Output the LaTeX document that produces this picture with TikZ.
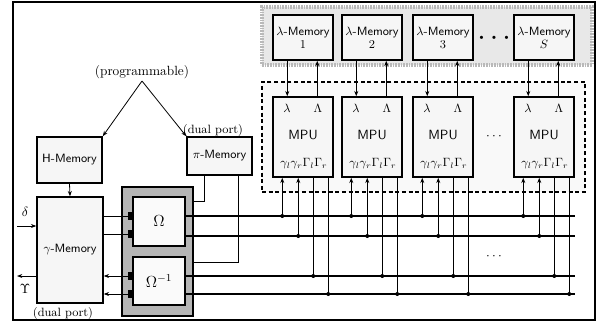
\documentclass[tikz,border=0pt]{standalone}
\usetikzlibrary{arrows.meta,calc}
\begin{document}
\begin{tikzpicture}[x=0.75pt,y=-0.75pt,
  box/.style={draw=black,line width=1.1pt,fill=gray!7,inner sep=0pt,font=\sffamily\small,align=center},
  lamreg/.style={draw=gray!55,line width=3.5pt,dash pattern=on 1.2pt off 0.8pt,fill=gray!18,inner sep=0pt},
  mpureg/.style={draw=black,line width=0.8pt,dash pattern=on 3pt off 2pt,fill=gray!5,inner sep=0pt},
  omframe/.style={draw=black,line width=1.3pt,fill=gray!58,inner sep=0pt},
  ombox/.style={draw=black,line width=1.1pt,fill=gray!4,inner sep=0pt,font=\large},
  port/.style={fill=black,draw=none,minimum width=4pt,minimum height=5.5pt,inner sep=0pt},
  bus/.style={line width=2.2pt},
  thin/.style={line width=0.6pt},
  arr/.style={line width=0.6pt,-{Stealth[length=4pt,width=3pt]}},
  jdot/.style={circle,fill=black,inner sep=0pt,minimum size=3pt},
  lbl/.style={inner sep=0pt,font=\small},
  mlbl/.style={inner sep=0pt,font=\sffamily\small},
]
\useasboundingbox (0,0) rectangle (597,322);
% outer frame
\node[draw=black,line width=0.8pt,minimum width=436.5pt,minimum height=238.5pt,inner sep=0pt] (frame) at (304,161) {};

% regions
\node[lamreg,minimum width=247.5pt,minimum height=43.5pt] (lamregion) at (427,36) {};
\node[mpureg,minimum width=242.25pt,minimum height=82.5pt] (mpuregion) at (423.5,137) {};

% left side boxes
\node[box,minimum width=48.75pt,minimum height=34.5pt] (hmem) at (69.5,160) {H-Memory};
\node[box,minimum width=48.75pt,minimum height=28.5pt] (pimem) at (219.5,156) {$\pi$-Memory};
\node[box,minimum width=49.5pt,minimum height=79.5pt] (gmem) at (70,250) {$\gamma$-Memory};

\node[lbl,font=\normalsize] (prog) at (142,72) {(programmable)};
\node[lbl] (dp1) at (213,130) {(dual port)};
\node[lbl] (dp2) at (63,313) {(dual port)};
\coordinate (apex) at (142,81);
\draw[arr] (apex) -- (hmem.north east);
\draw[arr] (apex) -- (pimem.north west);
\draw[arr] (hmem.south) -- (gmem.north);

% delta / upsilon
\node[lbl,font=\normalsize] (delta) at (25,212) {$\delta$};
\node[lbl,font=\normalsize] (ups) at (25,289) {$\Upsilon$};
\coordinate (din) at (17,226);
\coordinate (uout) at (17,276);
\draw[arr] (din) -- (din -| gmem.west);
\draw[arr] (uout -| gmem.west) -- (uout);

% Omega block
\node[omframe,minimum width=53.25pt,minimum height=96.75pt] (omf) at (157.5,251.5) {};
\node[ombox,minimum width=39pt,minimum height=36.75pt] (om) at (159,221.5) {$\Omega$};
\node[ombox,minimum width=39pt,minimum height=36pt] (omi) at (159,281) {$\Omega^{-1}$};
\node[port] (p1) at (131,216) {};
\node[port] (p2) at (131,234) {};
\node[port] (p3) at (131,276) {};
\node[port] (p4) at (131,294) {};
\draw[thin] (p1.west -| gmem.east) -- (p1.west);
\draw[thin] (p2.west -| gmem.east) -- (p2.west);
\draw[arr] (p3.west) -- (p3.west -| gmem.east);
\draw[arr] (p4.west) -- (p4.west -| gmem.east);

% pi-memory to Omega blocks
\coordinate (pa) at (204,201);
\coordinate (pb) at (238,262);
\draw[thin] (pimem.south -| pa) -- (pa) -- (pa -| omf.east);
\draw[thin] (pimem.south -| pb) -- (pb) -- (pb -| omf.east);

% buses
\coordinate (b1) at (575,216);
\coordinate (b2) at (575,236);
\coordinate (b3) at (575,276);
\coordinate (b4) at (575,294);
\draw[bus] (b1 -| om.east) -- (b1);
\draw[bus] (b2 -| om.east) -- (b2);
\draw[bus] (b3 -| omi.east) -- (b3);
\draw[bus] (b4 -| omi.east) -- (b4);

% lambda memories and MPUs
\foreach \i/\xl/\num in {1/273/1,2/342/2,3/413/3,4/514/S} {
  \node[box,minimum width=45pt,minimum height=33.75pt] (lm\i) at (\xl+30,37.5) {$\lambda$-Memory\\[-1pt]$\num$};
  \node[box,minimum width=45pt,minimum height=60pt] (mpu\i) at (\xl+30,137) {};
  \node[mlbl] (ml\i) at (\xl+14,108) {$\lambda$};
  \node[mlbl] (mL\i) at (\xl+45,108) {$\Lambda$};
  \node[inner sep=0pt,font=\sffamily] (mt\i) at (\xl+30,135) {MPU};
  \node[inner sep=0pt,font=\small] (mg\i) at (\xl+31,164) {$\gamma_l\gamma_r\Gamma_l\Gamma_r$};
  \path (mpu\i.north west) ++(15,0) coordinate (ca\i);
  \path (mpu\i.north west) ++(45,0) coordinate (cb\i);
  \draw[arr] (lm\i.south -| ca\i) -- (ca\i);
  \draw[arr] (cb\i) -- (lm\i.south -| cb\i);
  \path (mpu\i.south west) ++(10,0) coordinate (g1\i);
  \path (mpu\i.south west) ++(26,0) coordinate (g2\i);
  \path (mpu\i.south west) ++(41,0) coordinate (g3\i);
  \path (mpu\i.south west) ++(56,0) coordinate (g4\i);
  \draw[arr] (g1\i |- b1) -- (g1\i);
  \draw[arr] (g2\i |- b2) -- (g2\i);
  \draw[thin] (g3\i) -- (g3\i |- b3);
  \draw[thin] (g4\i) -- (g4\i |- b4);
  \node[jdot] (j1\i) at (g1\i |- b1) {};
  \node[jdot] (j2\i) at (g2\i |- b2) {};
  \node[jdot] (j3\i) at (g3\i |- b3) {};
  \node[jdot] (j4\i) at (g4\i |- b4) {};
}
\node[inner sep=0pt,font=\tiny] (d1) at (494,38) {$\bullet\;\;\bullet\;\;\bullet$};
\node[inner sep=0pt] (d2) at (494,137) {$\cdots$};
\node[inner sep=0pt] (d3) at (494,257) {$\cdots$};
\end{tikzpicture}
\end{document}
